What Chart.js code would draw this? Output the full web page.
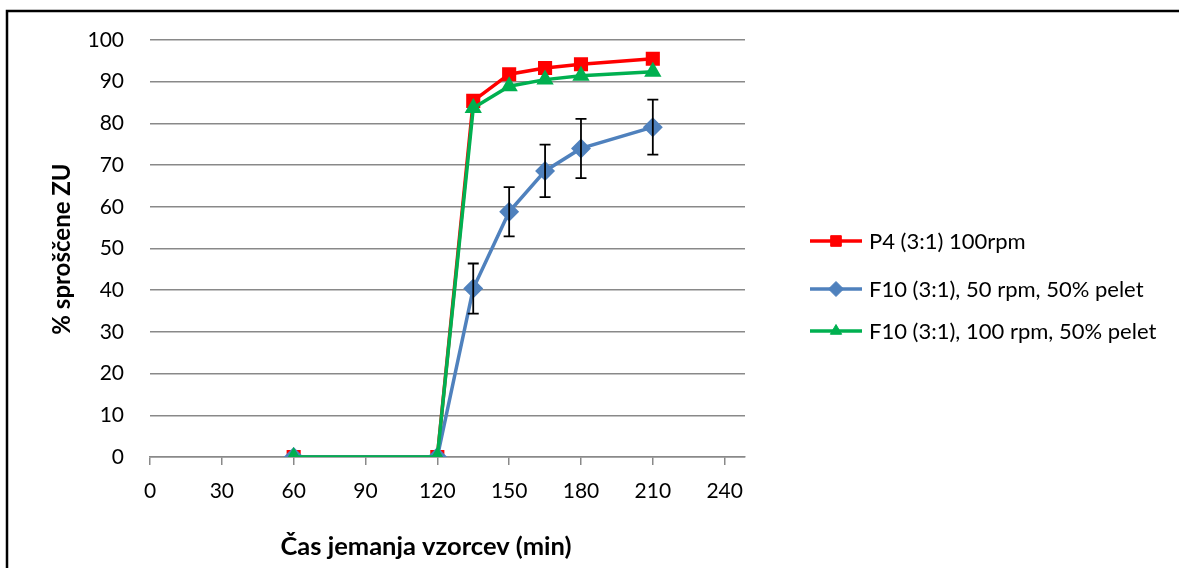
<!DOCTYPE html>
<html>
<head>
<meta charset="utf-8">
<script src="https://cdn.jsdelivr.net/npm/chart.js@4"></script>
<style>
  html, body { margin: 0; padding: 0; background: #fff; }
  #wrap { width: 1179px; height: 568px; position: relative; }
</style>
</head>
<body>
<div id="wrap"><canvas id="chart" width="1179" height="568"></canvas></div>
<script>
// Data
const times = [60, 120, 135, 150, 165, 180, 210];
const p4Values = [0, 0, 85.4, 91.8, 93.3, 94.2, 95.5];
const f10slowValues = [0, 0, 40.4, 58.8, 68.6, 74.0, 79.1];
const f10slowErrors = [0, 0, 6.0, 5.9, 6.3, 7.1, 6.6];
const f10fastValues = [0, 0, 83.7, 88.9, 90.5, 91.4, 92.4];
const seriesNames = ['P4 (3:1) 100rpm', 'F10 (3:1), 50 rpm, 50% pelet', 'F10 (3:1), 100 rpm, 50% pelet'];
const xTicks = [0, 30, 60, 90, 120, 150, 180, 210, 240];
const yTitle = '% sproščene ZU';
const xTitle = 'Čas jemanja vzorcev (min)';

const FONT = 'Lato';
const GRID = '#898989';

const toPoints = vals => vals.map((v, i) => ({ x: times[i], y: v }));

// background + outer frame
const frame = {
  id: 'frame',
  beforeDraw(chart) {
    const c = chart.ctx;
    c.save();
    c.fillStyle = '#fff';
    c.fillRect(0, 0, chart.width, chart.height);
    c.restore();
  },
  afterDraw(chart) {
    const c = chart.ctx;
    c.save();
    c.strokeStyle = '#000';
    c.lineWidth = 2.5;
    c.beginPath();
    c.moveTo(7, chart.height);
    c.lineTo(7, 11);
    c.lineTo(chart.width, 11);
    c.stroke();
    c.restore();
  }
};

// error bars on the 50 rpm series
const errorBars = {
  id: 'errorBars',
  afterDatasetsDraw(chart) {
    const c = chart.ctx;
    const xs = chart.scales.x, ys = chart.scales.y;
    c.save();
    c.strokeStyle = '#000';
    c.lineWidth = 1.8;
    times.forEach((t, i) => {
      const e = f10slowErrors[i];
      if (!e) return;
      const px = xs.getPixelForValue(t);
      const top = ys.getPixelForValue(f10slowValues[i] + e);
      const bot = ys.getPixelForValue(f10slowValues[i] - e);
      c.beginPath();
      c.moveTo(px, top); c.lineTo(px, bot);
      c.moveTo(px - 5.5, top); c.lineTo(px + 5.5, top);
      c.moveTo(px - 5.5, bot); c.lineTo(px + 5.5, bot);
      c.stroke();
    });
    c.restore();
  }
};

// axis titles + legend with line and marker
const extras = {
  id: 'extras',
  afterDraw(chart) {
    const c = chart.ctx;
    c.save();
    c.fillStyle = '#000';
    c.textAlign = 'center';
    c.textBaseline = 'middle';
    c.font = `bold 25.5px ${FONT}`;
    c.fillText(xTitle, 426, 547);
    c.font = `bold 24px ${FONT}`;
    c.translate(62, 249);
    c.rotate(-Math.PI / 2);
    c.fillText(yTitle, 0, 0);
    c.restore();

    const rows = [241, 289, 331];
    c.save();
    c.font = `22px ${FONT}`;
    c.textBaseline = 'middle';
    chart.data.datasets.forEach((ds, i) => {
      const y = rows[i];
      c.strokeStyle = ds.borderColor;
      c.lineWidth = 3.5;
      c.beginPath();
      c.moveTo(810, y); c.lineTo(862, y);
      c.stroke();
      c.fillStyle = ds.backgroundColor;
      c.lineWidth = 1;
      Chart.helpers.drawPoint(c, {
        pointStyle: ds.pointStyle, radius: ds.pointRadius, rotation: 0, borderWidth: 1
      }, 836, y);
      c.fillStyle = '#000';
      c.fillText(ds.label, 869, y + 1);
    });
    c.restore();
  }
};

new Chart(document.getElementById('chart'), {
  type: 'line',
  data: {
    datasets: [
      { label: seriesNames[0], data: toPoints(p4Values), borderColor: '#FF0000', backgroundColor: '#FF0000',
        pointStyle: 'rect', pointRadius: 7.5, borderWidth: 3.5, order: 2 },
      { label: seriesNames[1], data: toPoints(f10slowValues), borderColor: '#4F81BD', backgroundColor: '#4F81BD',
        pointStyle: 'rectRot', pointRadius: 7.5, borderWidth: 3.5, order: 1 },
      { label: seriesNames[2], data: toPoints(f10fastValues), borderColor: '#00B050', backgroundColor: '#00B050',
        pointStyle: 'triangle', pointRadius: 6.5, borderWidth: 3.5, order: 0 }
    ]
  },
  options: {
    responsive: false,
    animation: false,
    layout: { padding: { left: 0, top: 40, right: 434, bottom: 0 } },
    plugins: { legend: { display: false }, tooltip: { enabled: false } },
    elements: { line: { tension: 0 }, point: { borderWidth: 1 } },
    scales: {
      x: {
        type: 'linear', min: 0, max: 248.5,
        afterBuildTicks: s => { s.ticks = xTicks.map(v => ({ value: v })); },
        afterFit: s => { s.height = 111; },
        grid: { drawOnChartArea: false, drawTicks: true, tickLength: 8, color: GRID, lineWidth: 1.5 },
        border: { display: true, color: GRID, width: 1.5 },
        ticks: { color: '#000', font: { family: FONT, size: 21 }, padding: 14, maxRotation: 0 }
      },
      y: {
        min: 0, max: 100,
        ticks: { stepSize: 10, color: '#000', font: { family: FONT, size: 21 }, padding: 26 },
        afterFit: s => { s.width = 150; },
        grid: { color: GRID, lineWidth: 1.5, drawTicks: false },
        border: { display: false }
      }
    }
  },
  plugins: [frame, errorBars, extras]
});
</script>
</body>
</html>
